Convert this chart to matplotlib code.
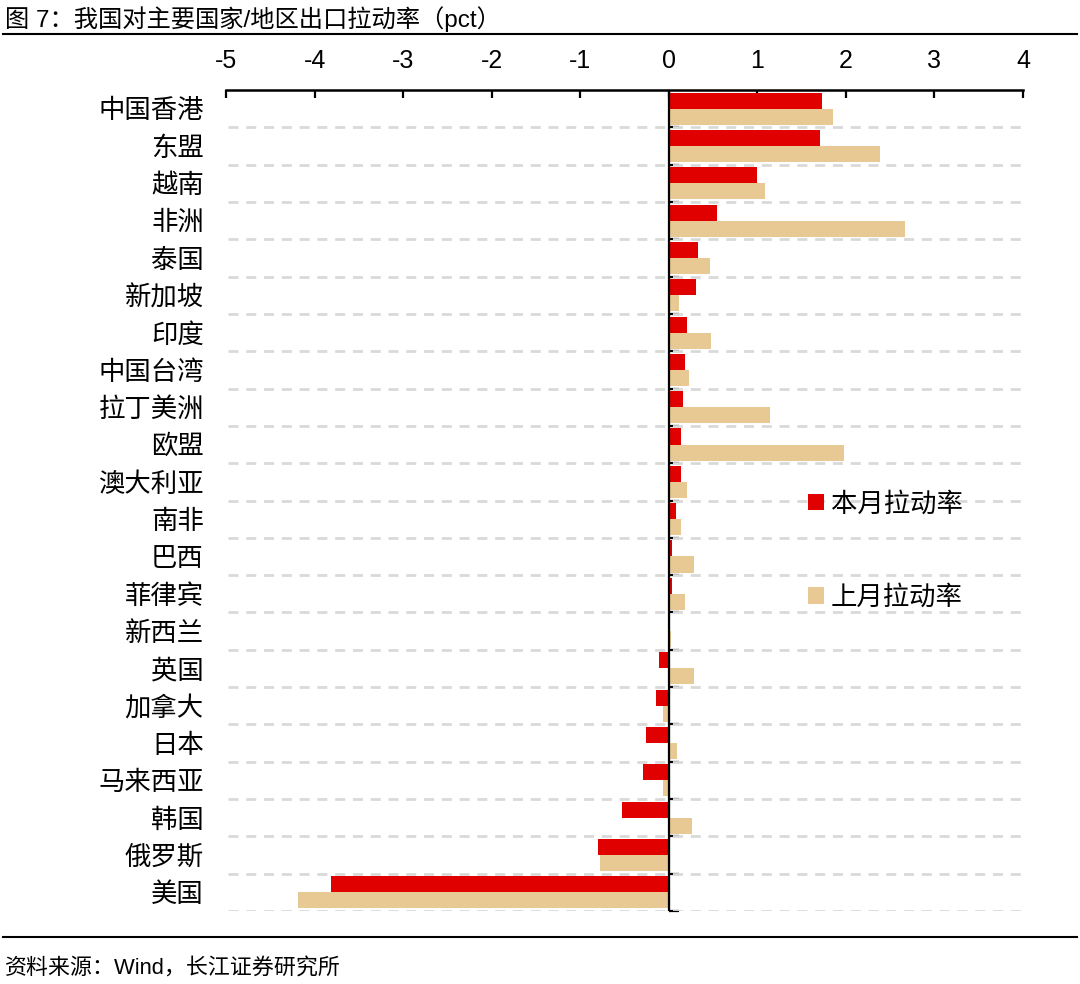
import numpy as np
import matplotlib
matplotlib.use('Agg')
from matplotlib import pyplot as plt
from matplotlib.lines import Line2D

plt.rcParams['font.family'] = ['Liberation Sans', 'Noto Sans CJK SC', 'DejaVu Sans']

# 数据
regions = ['中国香港', '东盟', '越南', '非洲', '泰国', '新加坡', '印度', '中国台湾',
           '拉丁美洲', '欧盟', '澳大利亚', '南非', '巴西', '菲律宾', '新西兰', '英国',
           '加拿大', '日本', '马来西亚', '韩国', '俄罗斯', '美国']
this_month = [1.73, 1.71, 1.00, 0.55, 0.33, 0.31, 0.21, 0.18,
              0.16, 0.14, 0.14, 0.08, 0.04, 0.04, 0.00, -0.11,
              -0.14, -0.26, -0.29, -0.53, -0.80, -3.82]
last_month = [1.85, 2.39, 1.09, 2.67, 0.46, 0.11, 0.48, 0.23,
              1.14, 1.98, 0.21, 0.14, 0.28, 0.18, 0.03, 0.28,
              -0.07, 0.09, -0.07, 0.26, -0.78, -4.19]
xticks = [-5, -4, -3, -2, -1, 0, 1, 2, 3, 4]

RED = '#e00000'
TAN = '#e8c994'

fig = plt.figure(figsize=(10.8, 9.84), dpi=100)
ax = fig.add_axes([0.2093, 0.0742, 0.7379, 0.8343])

n = len(regions)
y = np.arange(n)
h = 0.43
ax.barh(y - h / 2, this_month, height=h, color=RED, label='本月拉动率', zorder=3)
ax.barh(y + h / 2, last_month, height=h, color=TAN, label='上月拉动率', zorder=3)

ax.set_xlim(-5, 4)
ax.set_ylim(n - 0.5, -0.5)

# 分隔虚线
bounds = np.arange(0.5, n, 1)
ax.hlines(bounds, -4.98, 4.0, colors='#d9d9d9', linestyles=(0, (3.6, 2.8)),
          linewidth=2, zorder=1)

# 顶部x轴
ax.xaxis.tick_top()
ax.set_xticks(xticks)
ax.set_xticklabels([str(v) for v in xticks])
ax.tick_params(axis='x', direction='in', length=6, width=1.6, pad=12,
               labelsize=18, colors='black')
for s in ['left', 'right', 'bottom']:
    ax.spines[s].set_visible(False)
ax.spines['top'].set_linewidth(1.8)

ax.set_yticks(y)
ax.set_yticklabels(regions)
ax.tick_params(axis='y', length=0, pad=16, labelsize=19)

# 零轴及刻度
ax.axvline(0, color='black', linewidth=1.6, zorder=5)
zero = ax.secondary_yaxis(5 / 9)
zero.set_yticks(bounds)
zero.set_yticklabels([])
zero.tick_params(direction='out', length=7, width=1.6)
zero.spines['left'].set_linewidth(1.6)

ax.legend(loc='center left', bbox_to_anchor=(0.714, 0.439), frameon=False,
          fontsize=19, handlelength=0.6, handleheight=0.6, handletextpad=0.25,
          labelspacing=2.6, borderpad=0)

fig.text(0.005, 0.981, '图 7：我国对主要国家/地区出口拉动率（pct）', fontsize=17.5,
         va='center', ha='left')
fig.add_artist(Line2D([0.003, 0.997], [0.965, 0.965], color='black', linewidth=1.5))
fig.add_artist(Line2D([0.003, 0.997], [0.048, 0.048], color='black', linewidth=1.5))
fig.text(0.005, 0.016, '资料来源：Wind，长江证券研究所', fontsize=15.8,
         va='center', ha='left')

fig.savefig('out.png', dpi=100)
